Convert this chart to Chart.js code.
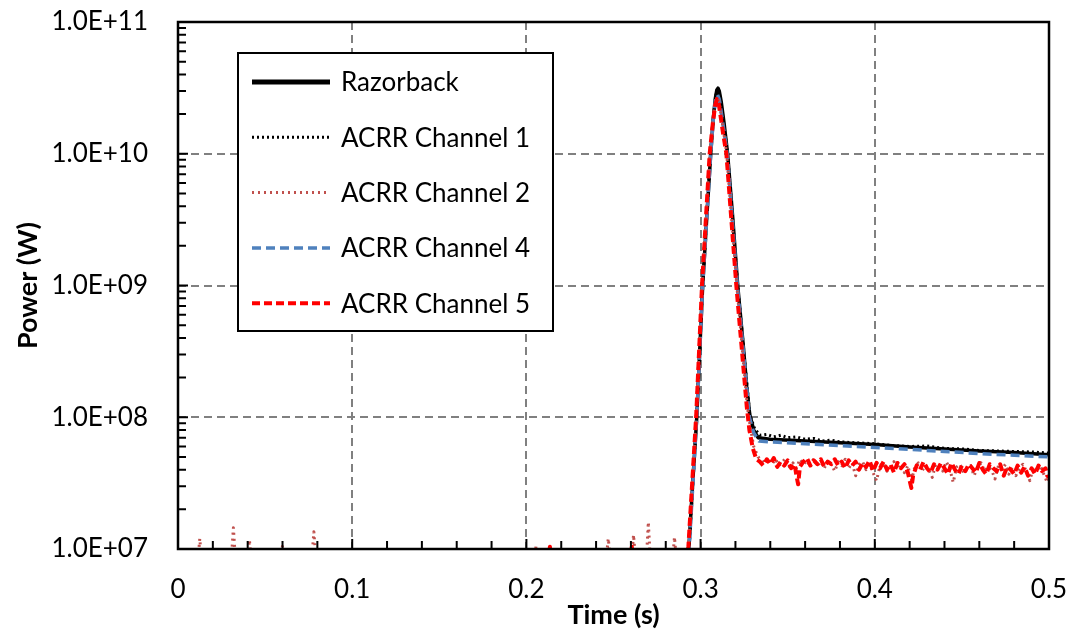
<!DOCTYPE html>
<html>
<head>
<meta charset="utf-8">
<script src="https://cdn.jsdelivr.net/npm/chart.js@4/dist/chart.umd.min.js"></script>
<style>
  html, body { margin: 0; padding: 0; background: #fff; }
  #wrap { width: 1077px; height: 639px; }
</style>
</head>
<body>
<div id="wrap"><canvas id="myChart" width="1077" height="639"></canvas></div>
<script>
// values (time in s, power in W)
var razorbackTime  = [0.2925, 0.2932, 0.2955, 0.2978, 0.2995, 0.3012, 0.3035, 0.3058, 0.3072, 0.3084, 0.3093, 0.3100, 0.3107, 0.3118, 0.3135, 0.3155, 0.3185, 0.3213, 0.3245, 0.3265, 0.3282, 0.3305, 0.3330, 0.340, 0.360, 0.380, 0.400, 0.420, 0.440, 0.460, 0.480, 0.500];
var razorbackPower = [7e6, 1e7, 3.2e7, 1e8, 3.2e8, 1e9, 3.2e9, 1e10, 1.8e10, 2.6e10, 3.05e10, 3.15e10, 3.0e10, 2.5e10, 1.7e10, 1e10, 3.2e9, 1e9, 3.5e8, 1.7e8, 1.05e8, 8e7, 7e7, 6.8e7, 6.6e7, 6.4e7, 6.2e7, 5.95e7, 5.75e7, 5.55e7, 5.4e7, 5.2e7];

var ch1Time  = [0.2925, 0.2935, 0.2978, 0.3012, 0.3058, 0.3075, 0.3088, 0.3098, 0.3108, 0.3120, 0.3155, 0.3213, 0.3282, 0.3310, 0.334, 0.338, 0.342, 0.346, 0.350, 0.355, 0.360, 0.365, 0.370, 0.375, 0.380, 0.390, 0.400, 0.410, 0.420, 0.430, 0.440, 0.450, 0.460, 0.470, 0.480, 0.490, 0.500];
var ch1Power = [7e6, 1.05e7, 1.05e8, 1.05e9, 1.05e10, 2.0e10, 2.8e10, 3.05e10, 2.85e10, 2.3e10, 1.0e10, 1.0e9, 1.05e8, 8.2e7, 7.3e7, 7.4e7, 7.1e7, 7.3e7, 7.0e7, 7.1e7, 6.8e7, 6.9e7, 6.6e7, 6.7e7, 6.5e7, 6.4e7, 6.3e7, 6.1e7, 6.0e7, 6.05e7, 5.8e7, 5.75e7, 5.6e7, 5.55e7, 5.5e7, 5.45e7, 5.35e7];

var ch2Time  = [0.0100, 0.0125, 0.0150, 0.0295, 0.0318, 0.0340, 0.0385, 0.0410, 0.0435, 0.0580, 0.0600, 0.0620, 0.0755, 0.0780, 0.0805, 0.2035, 0.2055, 0.2075, 0.2440, 0.2470, 0.2500, 0.2590, 0.2615, 0.2640, 0.2680, 0.2700, 0.2720, 0.2825, 0.2850, 0.2875,
                0.2920, 0.2930, 0.2975, 0.3008, 0.3052, 0.3072, 0.3086, 0.3096, 0.3106, 0.3120, 0.3150, 0.3208, 0.3268, 0.3285, 0.3305,
                0.333, 0.335, 0.337, 0.339, 0.341, 0.343, 0.345, 0.347, 0.349, 0.351, 0.353, 0.355, 0.357, 0.359, 0.361, 0.363, 0.365, 0.367, 0.369, 0.371, 0.373, 0.375, 0.377, 0.379, 0.381, 0.383, 0.385, 0.387, 0.389, 0.391, 0.393, 0.395, 0.397, 0.399, 0.401, 0.403, 0.405, 0.407, 0.409, 0.411, 0.413, 0.415, 0.417, 0.419, 0.421, 0.423, 0.425, 0.427, 0.429, 0.431, 0.433, 0.435, 0.437, 0.439, 0.441, 0.443, 0.445, 0.447, 0.449, 0.451, 0.453, 0.455, 0.457, 0.459, 0.461, 0.463, 0.465, 0.467, 0.469, 0.471, 0.473, 0.475, 0.477, 0.479, 0.481, 0.483, 0.485, 0.487, 0.489, 0.491, 0.493, 0.495, 0.497, 0.499, 0.500];
var ch2Power = [5e6, 1.2e7, 5e6, 5e6, 1.45e7, 5e6, 5e6, 1.17e7, 5e6, 5e6, 1.07e7, 5e6, 5e6, 1.35e7, 5e6, 5e6, 1.05e7, 5e6, 5e6, 1.2e7, 5e6, 5e6, 1.28e7, 5e6, 5e6, 1.6e7, 5e6, 5e6, 1.23e7, 5e6,
                8e6, 1.05e7, 1.05e8, 1.0e9, 1.0e10, 1.8e10, 2.5e10, 2.7e10, 2.5e10, 1.9e10, 1.0e10, 1.0e9, 1.2e8, 8.5e7, 6e7,
                5.0e7, 4.7e7, 4.5e7, 4.9e7, 4.4e7, 4.8e7, 4.3e7, 4.6e7, 4.9e7, 4.2e7, 4.5e7, 4.1e7, 4.8e7, 4.4e7, 4.7e7, 4.2e7, 4.9e7, 4.3e7, 4.6e7, 4.1e7, 4.7e7, 4.4e7, 3.9e7, 4.6e7, 4.3e7, 4.8e7, 4.1e7, 4.5e7, 3.6e7, 4.4e7, 4.6e7, 4.0e7, 4.4e7, 3.8e7, 3.3e7, 4.3e7, 4.5e7, 3.9e7, 4.2e7, 4.6e7, 4.0e7, 4.4e7, 3.8e7, 4.3e7, 3.3e7, 4.2e7, 4.5e7, 3.9e7, 4.3e7, 4.0e7, 3.5e7, 4.4e7, 4.2e7, 3.9e7, 4.6e7, 4.1e7, 3.2e7, 4.2e7, 4.4e7, 3.8e7, 4.1e7, 4.3e7, 3.6e7, 4.2e7, 4.5e7, 3.9e7, 4.2e7, 4.0e7, 3.4e7, 4.3e7, 4.0e7, 4.4e7, 3.7e7, 4.2e7, 3.6e7, 4.1e7, 4.4e7, 3.9e7, 3.3e7, 4.2e7, 3.9e7, 4.3e7, 3.7e7, 3.2e7, 3.4e7];

var ch4Time  = [0.2925, 0.2934, 0.2978, 0.3012, 0.3058, 0.3074, 0.3087, 0.3097, 0.3107, 0.3120, 0.3153, 0.3211, 0.3280, 0.3305, 0.3335, 0.340, 0.360, 0.380, 0.400, 0.420, 0.440, 0.460, 0.480, 0.500];
var ch4Power = [7e6, 1e7, 1e8, 1e9, 1e10, 1.9e10, 2.6e10, 2.8e10, 2.6e10, 2.0e10, 1e10, 1e9, 1e8, 7.6e7, 6.6e7, 6.5e7, 6.3e7, 6.1e7, 5.9e7, 5.7e7, 5.5e7, 5.3e7, 5.15e7, 5.0e7];

var ch5Time  = [0.2125, 0.2135, 0.2145, 0.2595, 0.2605, 0.2615,
                0.2920, 0.2930, 0.2975, 0.3008, 0.3052, 0.3070, 0.3084, 0.3094, 0.3104, 0.3118, 0.3130, 0.3148, 0.3205, 0.3265, 0.3280, 0.3300, 0.3320,
                0.334, 0.336, 0.338, 0.340, 0.342, 0.344, 0.346, 0.348, 0.350, 0.352, 0.354, 0.355, 0.356, 0.357, 0.359, 0.361, 0.363, 0.365, 0.367, 0.369, 0.371, 0.373, 0.375, 0.377, 0.379, 0.381, 0.383, 0.385, 0.387, 0.389, 0.391, 0.393, 0.395, 0.397, 0.399, 0.401, 0.403, 0.405, 0.407, 0.409, 0.411, 0.413, 0.415, 0.417, 0.419, 0.420, 0.421, 0.422, 0.424, 0.426, 0.428, 0.430, 0.432, 0.434, 0.436, 0.438, 0.440, 0.442, 0.444, 0.446, 0.448, 0.450, 0.452, 0.454, 0.456, 0.458, 0.460, 0.462, 0.464, 0.466, 0.468, 0.470, 0.472, 0.474, 0.476, 0.478, 0.480, 0.482, 0.484, 0.486, 0.488, 0.490, 0.492, 0.494, 0.496, 0.498, 0.499, 0.500];
var ch5Power = [8e6, 1.04e7, 8e6, 8e6, 1.04e7, 8e6,
                8e6, 1.05e7, 1.05e8, 1.0e9, 1.0e10, 1.7e10, 2.35e10, 2.6e10, 2.4e10, 1.8e10, 1.4e10, 1.0e10, 1.0e9, 1.2e8, 8e7, 5.8e7, 4.8e7,
                4.6e7, 4.3e7, 4.8e7, 4.4e7, 4.9e7, 4.2e7, 4.6e7, 4.3e7, 4.7e7, 4.1e7, 4.4e7, 3.6e7, 3.1e7, 4.2e7, 4.6e7, 4.9e7, 4.3e7, 4.7e7, 4.4e7, 4.8e7, 4.2e7, 4.6e7, 4.4e7, 4.8e7, 4.3e7, 4.6e7, 4.1e7, 4.7e7, 4.3e7, 4.6e7, 4.0e7, 4.5e7, 4.2e7, 4.7e7, 3.9e7, 4.5e7, 4.1e7, 4.6e7, 4.0e7, 4.4e7, 3.8e7, 4.5e7, 4.1e7, 4.4e7, 3.8e7, 3.3e7, 2.9e7, 3.6e7, 4.3e7, 4.0e7, 4.6e7, 4.1e7, 3.8e7, 4.4e7, 4.0e7, 4.5e7, 4.1e7, 3.7e7, 4.5e7, 4.0e7, 3.7e7, 4.3e7, 3.9e7, 4.4e7, 4.1e7, 3.8e7, 4.5e7, 4.0e7, 3.7e7, 4.4e7, 4.1e7, 3.9e7, 4.4e7, 3.6e7, 4.2e7, 4.0e7, 3.7e7, 4.3e7, 3.8e7, 4.2e7, 3.6e7, 4.1e7, 3.7e7, 4.3e7, 3.9e7, 4.1e7, 3.6e7, 3.5e7, 2.9e7];

var xTickValues = [0, 0.1, 0.2, 0.3, 0.4, 0.5];
var yDecades = [7, 8, 9, 10, 11];

var FONT = 'Lato';

function toPoints(times, powers) {
    return times.map(function(t, i) { return {x: t, y: powers[i]}; });
}

function sciLabel(v) {
    var e = Math.round(Math.log10(v));
    return '1.0E+' + String(e).padStart(2, '0');
}

// inside tick marks, plot frame and the boxed legend
var framePlugin = {
    id: 'frame',
    afterDraw: function(chart) {
        var ctx = chart.ctx, a = chart.chartArea;
        var xs = chart.scales.x, ys = chart.scales.y;
        ctx.save();
        ctx.setLineDash([]);
        ctx.strokeStyle = '#000';
        ctx.lineWidth = 2;
        ctx.beginPath();
        for (var i = 0; i <= 25; i++) {
            var px = xs.getPixelForValue(i * 0.02);
            var len = (i % 5 === 0) ? 10 : 8;
            ctx.moveTo(px, a.bottom);
            ctx.lineTo(px, a.bottom - len);
        }
        for (var d = 7; d < 11; d++) {
            for (var m = 1; m <= 9; m++) {
                var py = ys.getPixelForValue(m * Math.pow(10, d));
                ctx.moveTo(a.left, py);
                ctx.lineTo(a.left + (m === 1 ? 10 : 8), py);
            }
        }
        ctx.stroke();
        ctx.lineWidth = 2.5;
        ctx.strokeRect(a.left, a.top, a.right - a.left, a.bottom - a.top);

        // legend box
        var bx = 238, by = 53, bw = 315, bh = 278;
        ctx.fillStyle = '#fff';
        ctx.fillRect(bx, by, bw, bh);
        ctx.lineWidth = 2;
        ctx.strokeRect(bx, by, bw, bh);
        ctx.font = '26px ' + FONT;
        ctx.textBaseline = 'middle';
        ctx.textAlign = 'left';
        chart.data.datasets.forEach(function(ds, k) {
            var y = 82 + k * 55.3;
            ctx.strokeStyle = ds.borderColor;
            ctx.lineWidth = k === 0 ? 5 : ds.borderWidth;
            ctx.setLineDash(ds.borderDash || []);
            ctx.beginPath();
            ctx.moveTo(252, y);
            ctx.lineTo(330, y);
            ctx.stroke();
            ctx.setLineDash([]);
            ctx.fillStyle = '#000';
            ctx.fillText(ds.label, 341, y + 1);
        });
        ctx.restore();
    }
};

var chart = new Chart('myChart', {
    type: 'scatter',
    data: {
        datasets: [
            { label: 'Razorback', data: toPoints(razorbackTime, razorbackPower), borderColor: '#000000', borderWidth: 3.5, order: 4 },
            { label: 'ACRR Channel 1', data: toPoints(ch1Time, ch1Power), borderColor: '#000000', borderWidth: 3, borderDash: [2, 3], order: 3 },
            { label: 'ACRR Channel 2', data: toPoints(ch2Time, ch2Power), borderColor: '#c0504d', borderWidth: 3, borderDash: [2, 4], order: 1 },
            { label: 'ACRR Channel 4', data: toPoints(ch4Time, ch4Power), borderColor: '#4f81bd', borderWidth: 3.5, borderDash: [9, 5], order: 2 },
            { label: 'ACRR Channel 5', data: toPoints(ch5Time, ch5Power), borderColor: '#ff0000', borderWidth: 4, borderDash: [8, 4], order: 0 }
        ]
    },
    options: {
        responsive: false,
        animation: false,
        events: [],
        showLine: true,
        elements: { point: { radius: 0 }, line: { tension: 0, fill: false, borderJoinStyle: 'round' } },
        layout: { padding: { top: 22, right: 28, left: 0, bottom: 0 } },
        plugins: { legend: { display: false }, tooltip: { enabled: false } },
        scales: {
            x: {
                type: 'linear', min: 0, max: 0.5,
                afterBuildTicks: function(s) { s.ticks = xTickValues.map(function(v) { return {value: v}; }); },
                afterFit: function(s) { s.height = 90; s.paddingLeft = 0; s.paddingRight = 0; },
                ticks: { color: '#000', font: { family: FONT, size: 26 }, padding: 25, maxRotation: 0,
                    callback: function(v) { return String(v); } },
                grid: { drawTicks: false, lineWidth: 2,
                    color: function(c) { return (c.tick && c.tick.value > 0 && c.tick.value < 0.5) ? '#808080' : 'rgba(0,0,0,0)'; } },
                border: { display: false, dash: [8, 5] },
                title: { display: true, text: 'Time (s)', color: '#000', font: { family: FONT, size: 27, weight: 'bold' }, padding: { top: 0, bottom: 8 } }
            },
            y: {
                type: 'logarithmic', min: 1e7, max: 1e11,
                afterBuildTicks: function(s) { s.ticks = yDecades.map(function(e) { return {value: Math.pow(10, e)}; }); },
                afterFit: function(s) { s.width = 178; s.paddingTop = 0; s.paddingBottom = 0; },
                ticks: { color: '#000', font: { family: FONT, size: 26 }, padding: 30, callback: sciLabel },
                grid: { drawTicks: false, lineWidth: 2,
                    color: function(c) { return (c.tick && c.tick.value > 1.5e7 && c.tick.value < 5e10) ? '#808080' : 'rgba(0,0,0,0)'; } },
                border: { display: false, dash: [8, 5] },
                title: { display: true, text: 'Power (W)', color: '#000', font: { family: FONT, size: 27, weight: 'bold' }, padding: { top: 12, bottom: 0 } }
            }
        }
    },
    plugins: [framePlugin]
});
</script>
</body>
</html>
